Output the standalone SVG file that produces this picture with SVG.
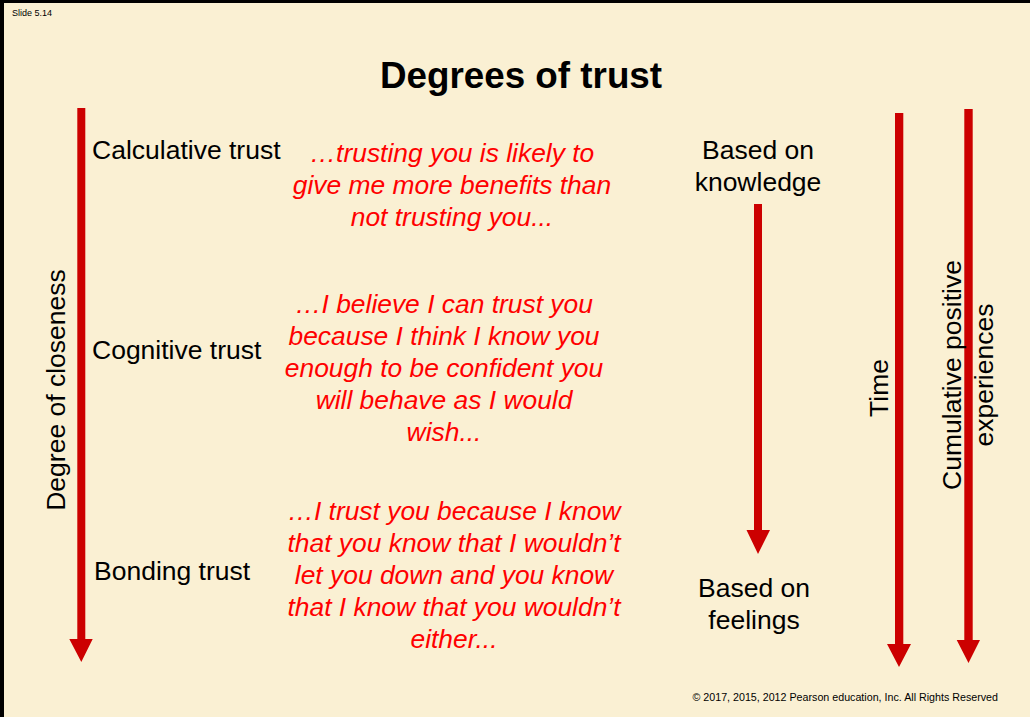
<svg xmlns="http://www.w3.org/2000/svg" width="1030" height="717" viewBox="0 0 1030 717">
<style>
.bg{fill:#FAF0D3}
.lbl{font-family:"Liberation Sans",Arial,sans-serif;font-size:26.5px;fill:#000}
.quote{font-family:"Liberation Sans",Arial,sans-serif;font-size:26.4px;font-style:italic;fill:#FF0000;text-anchor:middle}
.mid{text-anchor:middle}
.arrow{fill:#CC0000}
</style>
<rect class="bg" x="0" y="0" width="1030" height="717"/>
<rect x="0" y="0" width="1030" height="3" fill="#000"/>
<rect x="0" y="0" width="4" height="717" fill="#000"/>
<text x="12" y="16" font-family="Liberation Sans,Arial,sans-serif" font-size="9" fill="#000">Slide 5.14</text>
<g id="title"><text x="521" y="88" font-family="Liberation Sans,Arial,sans-serif" font-size="36.8" font-weight="bold" text-anchor="middle" fill="#000">Degrees of trust</text></g>
<g id="connectors">
<path class="arrow" d="M77.3,108 H85.3 V639 H92.7 L81.3,662 L69.3,639 H77.3 Z"/>
<path class="arrow" d="M754,204 H762 V530 H770 L758,554 L746.5,530 H754 Z"/>
<path class="arrow" d="M895,113 H903.3 V644 H911 L899,667 L887,644 H895 Z"/>
<path class="arrow" d="M964.3,109 H972.7 V640 H980 L968.5,663 L956.7,640 H964.3 Z"/>
</g>
<g id="degree-of-closeness"><text class="lbl mid" transform="translate(65,390) rotate(-90)">Degree of closeness</text></g>
<g id="calculative">
<text class="lbl" x="92" y="159">Calculative trust</text>
<text class="quote" y="162"><tspan x="452">…trusting you is likely to</tspan><tspan x="452" dy="32">give me more benefits than</tspan><tspan x="452" dy="32">not trusting you...</tspan></text>
</g>
<g id="cognitive">
<text class="lbl" x="92" y="359">Cognitive trust</text>
<text class="quote" y="313"><tspan x="444">…I believe I can trust you</tspan><tspan x="444" dy="32">because I think I know you</tspan><tspan x="444" dy="32">enough to be confident you</tspan><tspan x="444" dy="32">will behave as I would</tspan><tspan x="444" dy="32">wish...</tspan></text>
</g>
<g id="bonding">
<text class="lbl" x="94" y="580">Bonding trust</text>
<text class="quote" y="520"><tspan x="454">…I trust you because I know</tspan><tspan x="454" dy="32">that you know that I wouldn’t</tspan><tspan x="454" dy="32">let you down and you know</tspan><tspan x="454" dy="32">that I know that you wouldn’t</tspan><tspan x="454" dy="32">either...</tspan></text>
</g>
<g id="based-on-knowledge"><text class="lbl mid" y="159"><tspan x="758">Based on</tspan><tspan x="758" dy="32">knowledge</tspan></text></g>
<g id="based-on-feelings"><text class="lbl mid" y="597"><tspan x="754">Based on</tspan><tspan x="754" dy="32">feelings</tspan></text></g>
<g id="time"><text class="lbl mid" transform="translate(888,388) rotate(-90)">Time</text></g>
<g id="cumulative"><text class="lbl mid" transform="translate(961,375) rotate(-90)"><tspan x="0" y="0">Cumulative positive</tspan><tspan x="0" y="32">experiences</tspan></text></g>
<text x="998" y="701" font-family="Liberation Sans,Arial,sans-serif" font-size="10.7" text-anchor="end" fill="#000">© 2017, 2015, 2012 Pearson education, Inc. All Rights Reserved</text>
</svg>
